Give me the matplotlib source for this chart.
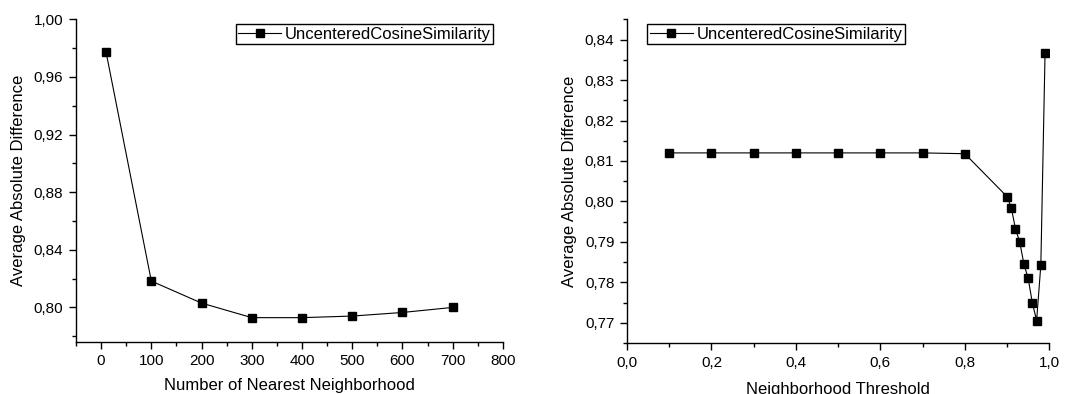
import matplotlib

matplotlib.use("Agg")
import matplotlib.pyplot as plt
from matplotlib.ticker import FuncFormatter, MultipleLocator

plt.rcParams["font.family"] = ["Liberation Sans", "DejaVu Sans"]

# left panel: k nearest neighbours
knn_k = [10, 100, 200, 300, 400, 500, 600, 700]
knn_mad = [0.977, 0.8183, 0.803, 0.7929, 0.7929, 0.794, 0.7965, 0.800]

# right panel: similarity threshold
thr = [0.1, 0.2, 0.3, 0.4, 0.5, 0.6, 0.7, 0.8,
       0.9, 0.91, 0.92, 0.93, 0.94, 0.95, 0.96, 0.97, 0.98, 0.99]
thr_mad = [0.8120, 0.8120, 0.8120, 0.8120, 0.8120, 0.8120, 0.8120, 0.8118,
           0.8012, 0.7985, 0.7932, 0.7900, 0.7845, 0.7810, 0.7749, 0.7706,
           0.7843, 0.8368]

SERIES = "UncenteredCosineSimilarity"
YLABEL = "Average Absolute Difference"


def comma(fmt):
    return FuncFormatter(lambda v, _: (fmt % v).replace(".", ","))


def style(ax):
    for side in ("top", "right"):
        ax.spines[side].set_visible(False)
    for side in ("left", "bottom"):
        ax.spines[side].set_linewidth(1.0)
    ax.tick_params(which="major", direction="out", length=5, width=1.0,
                   labelsize=11, pad=4)
    ax.tick_params(which="minor", direction="out", length=3, width=1.0)


fig = plt.figure(figsize=(10.87, 3.94), dpi=100)
ax1 = fig.add_axes([0.0699, 0.132, 0.3928, 0.819])
ax2 = fig.add_axes([0.5768, 0.129, 0.3885, 0.822])

line_kw = dict(color="black", lw=0.8, marker="s", ms=5.2,
               markerfacecolor="black", markeredgecolor="black")
leg_kw = dict(fontsize=12, fancybox=False, edgecolor="black", framealpha=1,
              handlelength=2.6, handletextpad=0.2, borderpad=0.15,
              borderaxespad=0.2)

ax1.plot(knn_k, knn_mad, label=SERIES, **line_kw)
ax1.set_xlim(-50, 800)
ax1.set_ylim(0.776, 1.0)
ax1.xaxis.set_major_locator(MultipleLocator(100))
ax1.xaxis.set_minor_locator(MultipleLocator(50))
ax1.yaxis.set_major_locator(MultipleLocator(0.04))
ax1.yaxis.set_minor_locator(MultipleLocator(0.02))
ax1.yaxis.set_major_formatter(comma("%.2f"))
ax1.set_xlabel("Number of Nearest Neighborhood", fontsize=12, labelpad=7)
ax1.set_ylabel(YLABEL, fontsize=12, labelpad=6)
style(ax1)
ax1.legend(loc="upper right", bbox_to_anchor=(0.985, 0.995), **leg_kw)

ax2.plot(thr, thr_mad, label=SERIES, **line_kw)
ax2.set_xlim(0.0, 1.0)
ax2.set_ylim(0.765, 0.845)
ax2.xaxis.set_major_locator(MultipleLocator(0.2))
ax2.xaxis.set_minor_locator(MultipleLocator(0.1))
ax2.yaxis.set_major_locator(MultipleLocator(0.01))
ax2.yaxis.set_minor_locator(MultipleLocator(0.005))
ax2.xaxis.set_major_formatter(comma("%.1f"))
ax2.yaxis.set_major_formatter(comma("%.2f"))
ax2.set_xlabel("Neighborhood Threshold", fontsize=12, labelpad=9)
ax2.set_ylabel(YLABEL, fontsize=12, labelpad=6)
style(ax2)
ax2.legend(loc="upper left", bbox_to_anchor=(0.04, 0.995), **leg_kw)

fig.savefig("out.png", dpi=100)
